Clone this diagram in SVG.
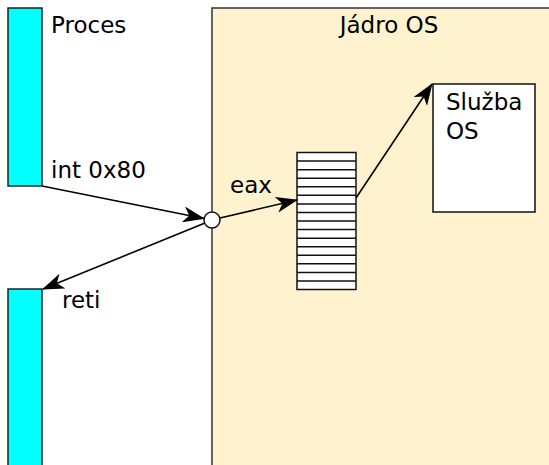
<svg xmlns="http://www.w3.org/2000/svg" width="549" height="465" viewBox="0 0 549 465">
<style>
text{font-family:"DejaVu Sans",sans-serif;font-size:23px;fill:#000}
.proc{fill:#00ffff;stroke:#222;stroke-width:1.5}
.conn{stroke:#000;stroke-width:1.6;fill:none;marker-end:url(#ah)}
</style>
<defs>
<marker id="ah" viewBox="0 0 22 16" refX="21" refY="8" markerWidth="22" markerHeight="16" markerUnits="userSpaceOnUse" orient="auto">
<path d="M0,0 L22,8 L0,16 L6,8 Z" fill="#000"/>
</marker>
</defs>
<rect width="549" height="465" fill="#fff"/>
<g id="kernel">
<rect x="212" y="8" width="345" height="470" fill="#fff2cf" stroke="#333" stroke-width="1.5"/>
<text x="389" y="33" text-anchor="middle">Jádro OS</text>
</g>
<g id="proces-top">
<rect class="proc" x="8" y="8" width="34" height="178"/>
<text x="51" y="33">Proces</text>
<text x="51" y="178">int 0x80</text>
</g>
<g id="proces-bottom">
<rect class="proc" x="8" y="289" width="34" height="190"/>
<text x="62" y="308">reti</text>
</g>
<g id="stack">
<rect x="297" y="152.5" width="59" height="137" fill="#fff" stroke="#111" stroke-width="1.5"/>
<path d="M297,161.06H356M297,169.63H356M297,178.19H356M297,186.75H356M297,195.31H356M297,203.88H356M297,212.44H356M297,221H356M297,229.56H356M297,238.13H356M297,246.69H356M297,255.25H356M297,263.81H356M297,272.38H356M297,280.94H356" stroke="#111" stroke-width="1.5"/>
<text x="230" y="193">eax</text>
</g>
<g id="service">
<rect x="433" y="84" width="102" height="128" fill="#fff" stroke="#111" stroke-width="1.5"/>
<text x="446" y="110">Služba</text>
<text x="446" y="139">OS</text>
</g>
<g id="connectors">
<line class="conn" x1="42" y1="186" x2="204" y2="218.5"/>
<line class="conn" x1="220" y1="218" x2="297" y2="200"/>
<line class="conn" x1="205" y1="223" x2="43" y2="289"/>
<line class="conn" x1="356" y1="198" x2="432" y2="84"/>
</g>
<g id="junction">
<circle cx="212" cy="220" r="8" fill="#fff" stroke="#111" stroke-width="1.5"/>
</g>
</svg>
